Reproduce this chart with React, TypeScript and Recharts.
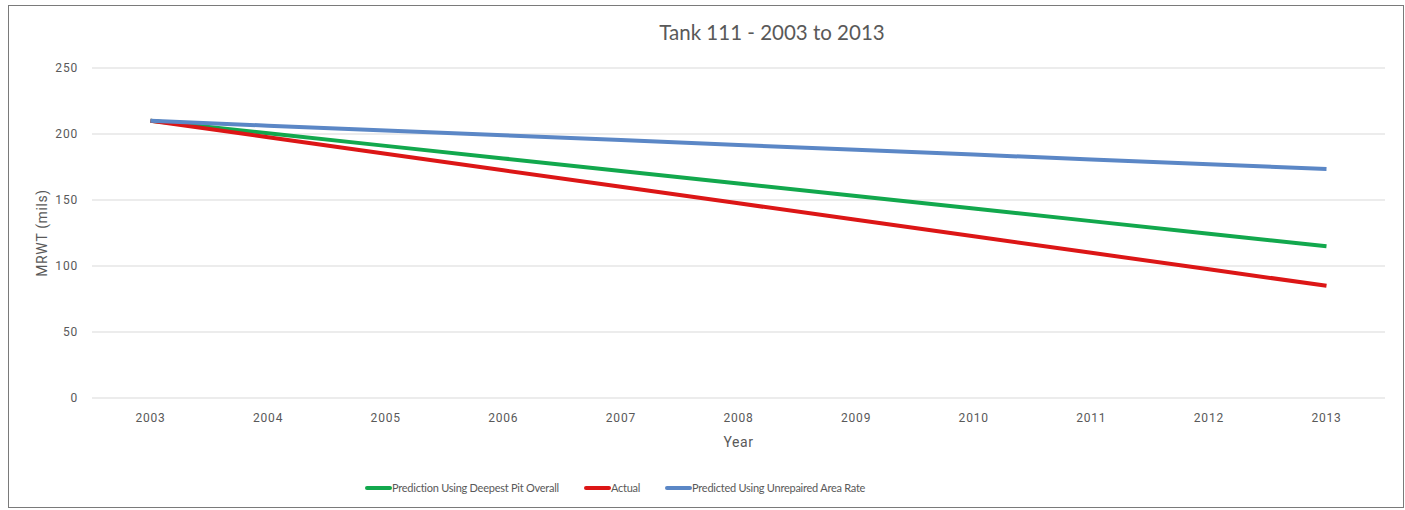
import React from 'react';
import { LineChart, Line, XAxis, YAxis, CartesianGrid } from 'recharts';

// 年ごとの値
const years = ['2003', '2004', '2005', '2006', '2007', '2008', '2009', '2010', '2011', '2012', '2013'];
const deepestPit = [210, 200.5, 191, 181.5, 172, 162.5, 153, 143.5, 134, 124.5, 115];
const actual = [210, 197.5, 185, 172.5, 160, 147.5, 135, 122.5, 110, 97.5, 85];
const unrepaired = [210, 206.3, 202.7, 199, 195.4, 191.7, 188, 184.4, 180.7, 177.1, 173.4];
const yTicks = [0, 50, 100, 150, 200, 250];

const SERIES = [
  { key: 'deepest', name: 'Prediction Using Deepest Pit Overall', color: '#12a84d' },
  { key: 'actual', name: 'Actual', color: '#dc1616' },
  { key: 'unrepaired', name: 'Predicted Using Unrepaired Area Rate', color: '#5b87c6' },
];

const data = years.map((year, i) => ({
  year,
  deepest: deepestPit[i],
  actual: actual[i],
  unrepaired: unrepaired[i],
}));

const TEXT = '#595959';
const NARROW = 'Lato, "Liberation Sans", sans-serif';
const TICK_FONT = 'Roboto, "DejaVu Sans", sans-serif';

export default function App() {
  return (
    <div
      style={{
        position: 'absolute',
        left: 8,
        top: 5,
        width: 1396,
        height: 503,
        border: '1px solid #7a7a7a',
        boxSizing: 'border-box',
        background: '#fff',
      }}
    >
      {/* タイトル */}
      <div
        style={{
          position: 'absolute',
          left: 763,
          top: 14,
          transform: 'translateX(-50%)',
          fontFamily: NARROW,
          fontSize: 20.5,
          color: TEXT,
          whiteSpace: 'nowrap',
        }}
      >
        Tank 111 - 2003 to 2013
      </div>

      <LineChart
        width={1394}
        height={501}
        data={data}
        margin={{ top: 62, right: 18, left: 0, bottom: 59 }}
      >
        <CartesianGrid vertical={false} stroke="#d9d9d9" strokeWidth={1} />
        <XAxis
          dataKey="year"
          axisLine={false}
          tickLine={false}
          tickSize={0}
          tickMargin={15}
          height={50}
          padding={{ left: 58.5, right: 58.5 }}
          tick={{ fill: TEXT, fontSize: 12, fontFamily: TICK_FONT, letterSpacing: 0.8 }}
          label={{
            value: 'Year',
            position: 'insideBottom',
            offset: 1,
            style: { fill: TEXT, fontSize: 14, fontFamily: TICK_FONT, letterSpacing: 0.6 },
          }}
        />
        <YAxis
          domain={[0, 250]}
          ticks={yTicks}
          axisLine={false}
          tickLine={false}
          tickSize={0}
          tickMargin={14}
          width={83}
          tick={{ fill: TEXT, fontSize: 12, fontFamily: TICK_FONT, letterSpacing: 0.8 }}
          label={{
            value: 'MRWT (mils)',
            angle: -90,
            position: 'insideLeft',
            offset: 33,
            style: { fill: TEXT, fontSize: 14, fontFamily: TICK_FONT, textAnchor: 'middle', letterSpacing: 0.6 },
          }}
        />
        {SERIES.map((s) => (
          <Line
            key={s.key}
            dataKey={s.key}
            name={s.name}
            stroke={s.color}
            strokeWidth={4}
            dot={false}
            activeDot={false}
            isAnimationActive={false}
          />
        ))}
      </LineChart>

      {/* 凡例 */}
      <div
        style={{
          position: 'absolute',
          left: 356,
          top: 475,
          display: 'flex',
          alignItems: 'center',
          gap: 25,
          fontFamily: NARROW,
          fontSize: 11,
          letterSpacing: -0.25,
          color: TEXT,
          whiteSpace: 'nowrap',
        }}
      >
        {SERIES.map((s) => (
          <div key={s.key} style={{ display: 'flex', alignItems: 'center' }}>
            <span
              style={{
                display: 'inline-block',
                width: 27,
                height: 4,
                borderRadius: 2,
                background: s.color,
              }}
            />
            <span>{s.name}</span>
          </div>
        ))}
      </div>
    </div>
  );
}
